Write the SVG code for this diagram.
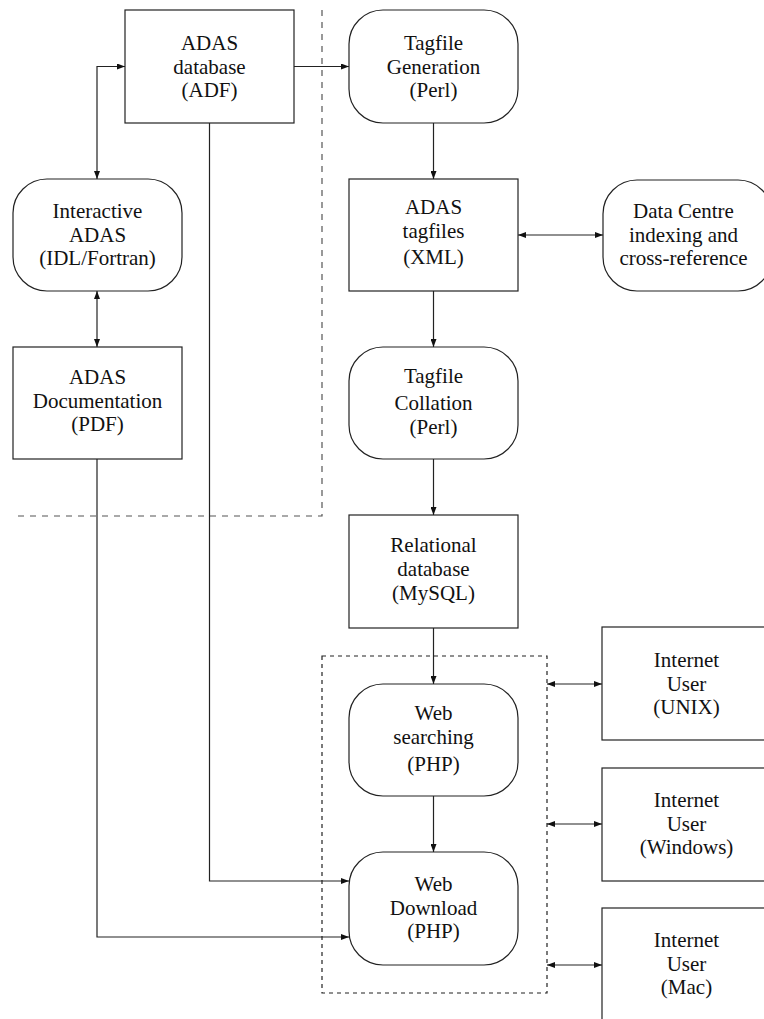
<svg xmlns="http://www.w3.org/2000/svg" width="764" height="1019" viewBox="0 0 764 1019">
<defs>
<marker id="ah" viewBox="0 0 8 6" refX="8" refY="3" markerWidth="8" markerHeight="6" markerUnits="userSpaceOnUse" orient="auto-start-reverse">
<path d="M0,0 L8,3 L0,6 z" fill="#111"/>
</marker>
<style>
.box{fill:#fff;stroke:#222;stroke-width:1.2}
text{font-family:'Liberation Serif','DejaVu Serif','Times New Roman',serif;font-size:21px;fill:#111;text-anchor:middle}
.c{fill:none;stroke:#222;stroke-width:1.2}
.d1{fill:none;stroke:#555;stroke-width:1.2;stroke-dasharray:6 6}
.d2{fill:none;stroke:#222;stroke-width:1.2;stroke-dasharray:4 4}
</style>
</defs>
<rect width="764" height="1019" fill="#fff"/>
<g id="regions">
<path class="d1" d="M322,10 L322,516 L13,516"/>
<rect class="d2" x="322" y="656" width="225" height="337"/>
</g>
<g id="connectors">
<path class="c" d="M294,66.5 L349,66.5" marker-end="url(#ah)"/>
<path class="c" d="M97,179 L97,66.5 L125,66.5" marker-start="url(#ah)" marker-end="url(#ah)"/>
<path class="c" d="M433.5,123 L433.5,179" marker-end="url(#ah)"/>
<path class="c" d="M518,235 L603,235" marker-start="url(#ah)" marker-end="url(#ah)"/>
<path class="c" d="M433.5,291 L433.5,347" marker-end="url(#ah)"/>
<path class="c" d="M433.5,459 L433.5,515" marker-end="url(#ah)"/>
<path class="c" d="M433.5,628 L433.5,684" marker-end="url(#ah)"/>
<path class="c" d="M97,291 L97,347" marker-start="url(#ah)" marker-end="url(#ah)"/>
<path class="c" d="M433.5,796 L433.5,852" marker-end="url(#ah)"/>
<path class="c" d="M209.5,123 L209.5,881 L349,881" marker-end="url(#ah)"/>
<path class="c" d="M97,459 L97,937 L349,937" marker-end="url(#ah)"/>
<path class="c" d="M547,684 L602,684" marker-start="url(#ah)" marker-end="url(#ah)"/>
<path class="c" d="M547,824 L602,824" marker-start="url(#ah)" marker-end="url(#ah)"/>
<path class="c" d="M547,965 L602,965" marker-start="url(#ah)" marker-end="url(#ah)"/>
</g>
<g id="adas-database">
<rect class="box" x="125" y="10" width="169" height="113"/>
<text x="209.5" y="50">ADAS</text>
<text x="209.5" y="73.5">database</text>
<text x="209.5" y="97">(ADF)</text>
</g>
<g id="tagfile-generation">
<rect class="box" x="349" y="10" width="169" height="113" rx="34" ry="34"/>
<text x="433.5" y="50">Tagfile</text>
<text x="433.5" y="73.5">Generation</text>
<text x="433.5" y="97">(Perl)</text>
</g>
<g id="interactive-adas">
<rect class="box" x="13" y="179" width="169" height="112" rx="34" ry="34"/>
<text x="97.5" y="218">Interactive</text>
<text x="97.5" y="241.5">ADAS</text>
<text x="97.5" y="265">(IDL/Fortran)</text>
</g>
<g id="adas-tagfiles">
<rect class="box" x="349" y="179" width="169" height="112"/>
<text x="433.5" y="214">ADAS</text>
<text x="433.5" y="237.5">tagfiles</text>
<text x="433.5" y="264">(XML)</text>
</g>
<g id="data-centre">
<rect class="box" x="603" y="180" width="169" height="111" rx="34" ry="34"/>
<text x="683.5" y="218">Data Centre</text>
<text x="683.5" y="241.5">indexing and</text>
<text x="683.5" y="265">cross-reference</text>
</g>
<g id="adas-documentation">
<rect class="box" x="13" y="347" width="169" height="112"/>
<text x="97.5" y="384">ADAS</text>
<text x="97.5" y="407.5">Documentation</text>
<text x="97.5" y="431">(PDF)</text>
</g>
<g id="tagfile-collation">
<rect class="box" x="349" y="347" width="169" height="112" rx="34" ry="34"/>
<text x="433.5" y="383">Tagfile</text>
<text x="433.5" y="410">Collation</text>
<text x="433.5" y="434">(Perl)</text>
</g>
<g id="relational-database">
<rect class="box" x="349" y="515" width="169" height="113"/>
<text x="433.5" y="552">Relational</text>
<text x="433.5" y="576">database</text>
<text x="433.5" y="599.5">(MySQL)</text>
</g>
<g id="web-searching">
<rect class="box" x="349" y="684" width="169" height="112" rx="34" ry="34"/>
<text x="433.5" y="720">Web</text>
<text x="433.5" y="743.5">searching</text>
<text x="433.5" y="771">(PHP)</text>
</g>
<g id="web-download">
<rect class="box" x="349" y="852" width="169" height="113" rx="34" ry="34"/>
<text x="433.5" y="891">Web</text>
<text x="433.5" y="914.5">Download</text>
<text x="433.5" y="938">(PHP)</text>
</g>
<g id="user-unix">
<rect class="box" x="602" y="627" width="169" height="113"/>
<text x="686.5" y="667">Internet</text>
<text x="686.5" y="690.5">User</text>
<text x="686.5" y="714">(UNIX)</text>
</g>
<g id="user-windows">
<rect class="box" x="602" y="768" width="169" height="113"/>
<text x="686.5" y="807">Internet</text>
<text x="686.5" y="830.5">User</text>
<text x="686.5" y="854">(Windows)</text>
</g>
<g id="user-mac">
<rect class="box" x="602" y="908" width="169" height="113"/>
<text x="686.5" y="947">Internet</text>
<text x="686.5" y="970.5">User</text>
<text x="686.5" y="994">(Mac)</text>
</g>
</svg>
